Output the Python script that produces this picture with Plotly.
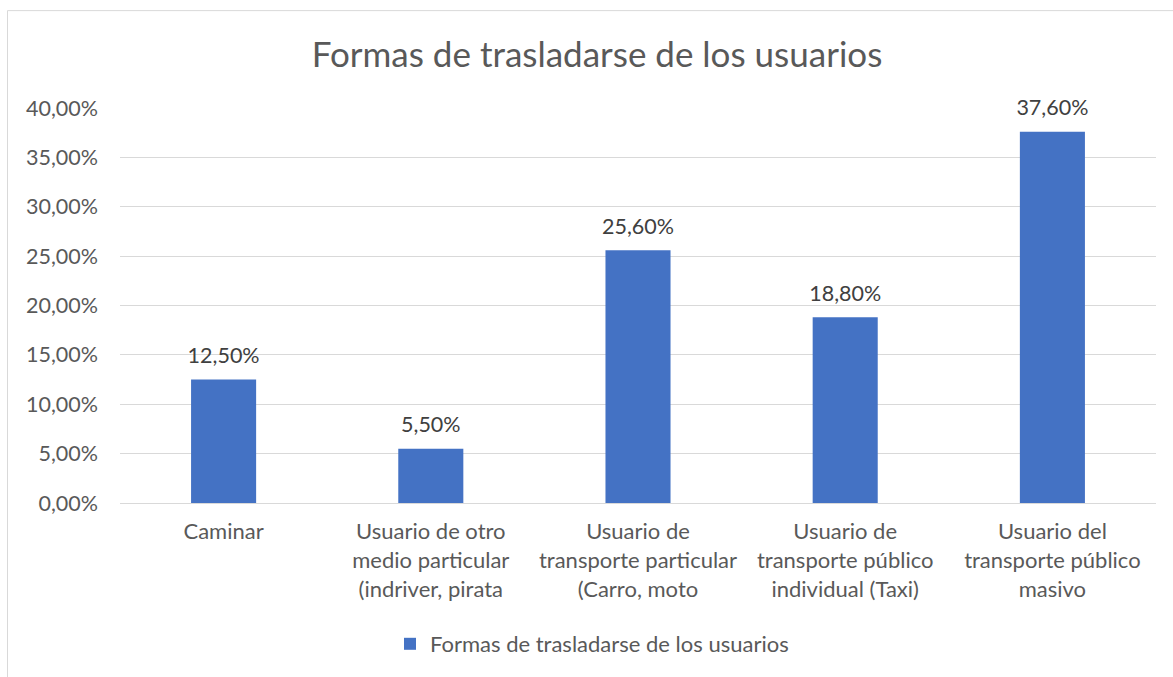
import plotly.graph_objects as go

title_text = "Formas de trasladarse de los usuarios"
series_name = "Formas de trasladarse de los usuarios"
categories = [
    "Caminar",
    "Usuario de otro<br>medio particular<br>(indriver, pirata",
    "Usuario de<br>transporte particular<br>(Carro, moto",
    "Usuario de<br>transporte público<br>individual (Taxi)",
    "Usuario del<br>transporte público<br>masivo",
]
values = [0.125, 0.055, 0.256, 0.188, 0.376]
y_ticks = [0, 0.05, 0.10, 0.15, 0.20, 0.25, 0.30, 0.35, 0.40]

W, H = 1173, 677
L, R, T, B = 120, 1156, 108, 503.5
pw, ph = R - L, B - T

FONT = "Lato, 'Liberation Sans', sans-serif"
GRAY = "#595959"
GRID = "#d9d9d9"

fig = go.Figure()
fig.add_trace(go.Bar(
    x=categories, y=values, name=series_name,
    marker=dict(color="#4472C4", line=dict(width=0)),
    width=0.314,
    hoverinfo="x+y",
    showlegend=True,
))
# data labels (placed above each bar by the axes, offset by an invisible marker)
fig.add_trace(go.Scatter(
    x=categories, y=values, mode="markers+text",
    marker=dict(size=16, opacity=0),
    texttemplate="%{y:.2%}", textposition="top center",
    textfont=dict(family=FONT, size=21.5, color="#404040"),
    cliponaxis=False, showlegend=False, hoverinfo="skip",
))

def px2x(px):
    return (px - L) / pw
def px2y(py):
    return (B - py) / ph

fig.update_layout(
    width=W, height=H,
    margin=dict(l=L, r=W - R, t=T, b=H - B, pad=0),
    paper_bgcolor="white", plot_bgcolor="white",
    separators=",.",
    font=dict(family=FONT, color=GRAY),
    title=dict(text=title_text, x=px2x(597), xref="paper", xanchor="center",
               y=1 - 55 / H, yref="container", yanchor="middle",
               font=dict(family=FONT, size=35, color=GRAY)),
    showlegend=True,
    legend=dict(orientation="h", xref="container", yref="container",
                x=(430 - 40) / W, xanchor="left", y=(H - 644) / H, yanchor="middle",
                font=dict(family=FONT, size=22, color=GRAY),
                itemwidth=30, bgcolor="rgba(0,0,0,0)"),
    shapes=[
        dict(type="line", xref="paper", yref="paper",
             x0=px2x(7.5), x1=px2x(1180), y0=px2y(10.5), y1=px2y(10.5),
             line=dict(color=GRID, width=1)),
        dict(type="line", xref="paper", yref="paper",
             x0=px2x(7.5), x1=px2x(7.5), y0=px2y(10.5), y1=px2y(690),
             line=dict(color=GRID, width=1)),
    ],
)
fig.update_yaxes(
    range=[0, 0.4], tickvals=y_ticks, tickformat=".2%",
    showgrid=True, gridcolor=GRID, gridwidth=1,
    zeroline=False, showline=False, ticks="",
    ticklabelstandoff=21,
    tickfont=dict(family=FONT, size=21.5, color=GRAY),
)
fig.update_xaxes(
    showgrid=False, showline=True, linecolor=GRID, linewidth=1,
    ticks="", ticklabelstandoff=9,
    tickfont=dict(family=FONT, size=22, color=GRAY),
)

fig.write_html("out.html", config={"displayModeBar": False},
               post_script="document.body.style.margin='0';")
